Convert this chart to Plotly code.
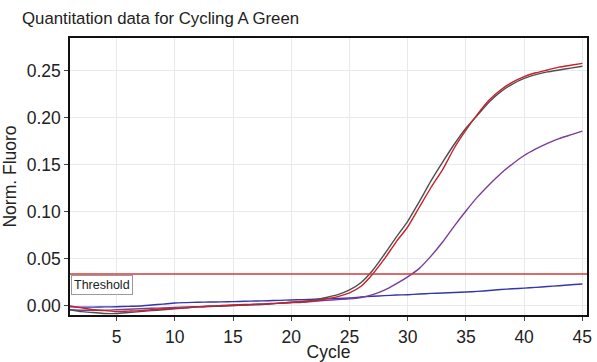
import plotly.graph_objects as go

cycles = list(range(1, 46))

gray_vals = [-0.004, -0.006, -0.007, -0.008, -0.008, -0.007, -0.006, -0.005, -0.004, -0.003,
             -0.002, -0.001, -0.0005, 0.000, 0.0005, 0.001, 0.0015, 0.002, 0.003, 0.004,
             0.005, 0.0065, 0.009, 0.012, 0.017, 0.025, 0.038, 0.055, 0.073, 0.090,
             0.111, 0.133, 0.153, 0.172, 0.189, 0.203, 0.217, 0.228, 0.236, 0.242,
             0.246, 0.249, 0.251, 0.253, 0.255]

red_vals = [0.000, -0.002, -0.004, -0.005, -0.006, -0.0055, -0.005, -0.004, -0.003, -0.0025,
            -0.002, -0.001, 0.000, 0.0005, 0.001, 0.0015, 0.002, 0.0025, 0.003, 0.004,
            0.0045, 0.0055, 0.0075, 0.010, 0.014, 0.021, 0.034, 0.050, 0.068, 0.084,
            0.105, 0.126, 0.145, 0.168, 0.187, 0.204, 0.219, 0.230, 0.238, 0.244,
            0.248, 0.251, 0.254, 0.256, 0.258]

purple_vals = [-0.004, -0.0045, -0.0045, -0.0045, -0.004, -0.0035, -0.003, -0.0025, -0.002, -0.0015,
               -0.001, -0.0007, -0.0004, 0.000, 0.0005, 0.001, 0.0015, 0.002, 0.003, 0.0035,
               0.004, 0.005, 0.006, 0.0068, 0.0075, 0.009, 0.012, 0.0168, 0.0235, 0.031,
               0.040, 0.053, 0.068, 0.085, 0.101, 0.116, 0.129, 0.141, 0.151, 0.160,
               0.167, 0.173, 0.178, 0.182, 0.186]

blue_vals = [-0.001, -0.0012, -0.0012, -0.001, -0.0008, -0.0004, 0.000, 0.001, 0.002, 0.0032,
             0.0036, 0.004, 0.0042, 0.0044, 0.0046, 0.005, 0.0053, 0.0056, 0.006, 0.0064,
             0.0068, 0.0072, 0.0076, 0.008, 0.0085, 0.0095, 0.0103, 0.011, 0.0116, 0.012,
             0.0127, 0.0134, 0.0138, 0.0143, 0.0148, 0.0155, 0.0165, 0.0175, 0.0183, 0.019,
             0.0198, 0.0207, 0.0215, 0.0225, 0.0234]

threshold = 0.034

x_ticks = [5, 10, 15, 20, 25, 30, 35, 40, 45]
y_ticks = [0.00, 0.05, 0.10, 0.15, 0.20, 0.25]

FONT = "Liberation Sans, Arial, sans-serif"

fig = go.Figure()

series = [
    ("Blue", blue_vals, "#3535b0"),
    ("Purple", purple_vals, "#7a3d96"),
    ("Gray", gray_vals, "#4f4f4f"),
    ("Red", red_vals, "#c8202c"),
]
for name, vals, color in series:
    fig.add_trace(go.Scatter(x=cycles, y=vals, mode="lines", name=name,
                             line=dict(color=color, width=1.4, shape="spline", smoothing=0.6)))

fig.add_hline(y=threshold, line=dict(color="#d03a3a", width=1.5))

fig.add_annotation(xref="paper", x=0.002, xanchor="left", yref="y", y=threshold - 0.001,
                   yanchor="top", text="Threshold", showarrow=False,
                   font=dict(family=FONT, size=12.5, color="#222"),
                   bordercolor="#9a9a9a", borderwidth=1, bgcolor="white", borderpad=2)

fig.update_layout(
    width=597, height=362,
    margin=dict(l=70, r=10, t=38, b=47),
    paper_bgcolor="white", plot_bgcolor="white",
    showlegend=False,
    font=dict(family=FONT, color="#222"),
    title=dict(text="Quantitation data for Cycling A Green", x=22 / 597, xanchor="left",
               xref="container", y=1 - 18 / 362, yanchor="middle",
               font=dict(size=16.8, color="#222")),
)

fig.update_xaxes(range=[1, 45.4], tickvals=x_ticks, ticks="outside", ticklen=4,
                 tickcolor="#444", showline=True, linecolor="#111", linewidth=1.5, mirror=True,
                 showgrid=True, gridcolor="#e6e9ee", gridwidth=1, zeroline=False, automargin=False,
                 ticklabelstandoff=1,
                 tickfont=dict(size=17.5), title=dict(text="Cycle", font=dict(size=17.5), standoff=0))
fig.update_yaxes(range=[-0.0096, 0.285], tickvals=y_ticks, tickformat=".2f", ticks="outside",
                 ticklen=4, tickcolor="#444", showline=True, linecolor="#111", linewidth=1.5,
                 mirror=True, showgrid=True, gridcolor="#e6e9ee", gridwidth=1, zeroline=False,
                 automargin=False,
                 tickfont=dict(size=17.5), title=dict(text="Norm. Fluoro", font=dict(size=17.5), standoff=6))

fig.write_html("out.html", config={"displayModeBar": False},
               post_script="document.body.style.margin='0';document.body.style.padding='0';")
